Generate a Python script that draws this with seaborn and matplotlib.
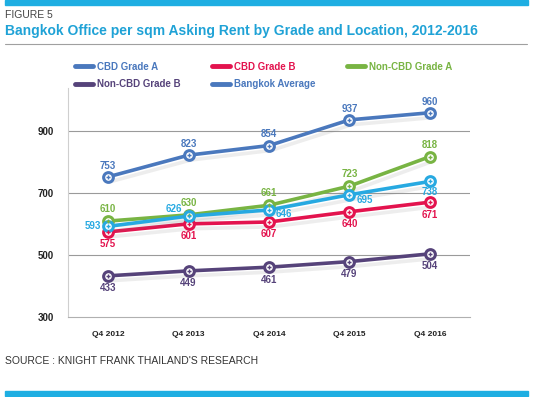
import matplotlib
matplotlib.use("Agg")
import matplotlib.pyplot as plt
import matplotlib.patheffects as pe
import seaborn as sns
import pandas as pd
from matplotlib.lines import Line2D

quarters = ["Q4 2012", "Q4 2013", "Q4 2014", "Q4 2015", "Q4 2016"]
cbd_a = [753, 823, 854, 937, 960]
cbd_b = [575, 601, 607, 640, 671]
noncbd_a = [610, 630, 661, 723, 818]
noncbd_b = [433, 449, 461, 479, 504]
bkk_avg = [593, 626, 646, 695, 738]
series_names = ["CBD Grade A", "CBD Grade B", "Non-CBD Grade A", "Non-CBD Grade B", "Bangkok Average"]
yticks = [300, 500, 700, 900]

colors = {
    "CBD Grade A": "#4a78bd",
    "CBD Grade B": "#e3134e",
    "Non-CBD Grade A": "#78b443",
    "Non-CBD Grade B": "#56437a",
    "Bangkok Average": "#27a9e1",
}

values = [cbd_a, cbd_b, noncbd_a, noncbd_b, bkk_avg]
rows = []
for name, vals in zip(series_names, values):
    for q, v in zip(quarters, vals):
        rows.append({"Quarter": q, "Rent": v, "Series": name})
df = pd.DataFrame(rows)

sns.set_theme(style="white")
plt.rcParams["font.family"] = ["Liberation Sans", "DejaVu Sans"]

fig = plt.figure(figsize=(5.34, 3.97), dpi=100)
ax = fig.add_axes([68 / 534, 1 - 317 / 397, (470 - 68) / 534, (317 - 88) / 397])

sns.lineplot(data=df, x="Quarter", y="Rent", hue="Series", hue_order=series_names,
             palette=colors, linewidth=2.6, sort=False, ax=ax, legend=False,
             path_effects=[pe.SimpleLineShadow(offset=(1.5, -3.5), shadow_color="#777777", alpha=0.13), pe.Normal()])

# markers: white-filled circles with coloured rim and a small inner cross
for name, vals in zip(series_names, values):
    ax.plot(range(len(quarters)), vals, linestyle="none", marker="o", markersize=7,
            markerfacecolor="white", markeredgecolor=colors[name], markeredgewidth=2.2, zorder=4)
    ax.plot(range(len(quarters)), vals, linestyle="none", marker="+", markersize=3,
            markeredgewidth=1, color=colors[name], zorder=5)

ax.set_xlim(-0.5, 4.5)
ax.set_ylim(300, 1040)
ax.set_yticks(yticks)
ax.set_yticklabels([str(t) for t in yticks], fontsize=7, fontweight="bold", color="#222222")
ax.set_xticks(range(len(quarters)))
ax.set_xticklabels(quarters, fontsize=6, fontweight="bold", color="#222222")
ax.tick_params(axis="y", length=0, pad=10)
ax.tick_params(axis="x", length=0, pad=10)
ax.set_xlabel("")
ax.set_ylabel("")
for t in yticks[1:]:
    ax.axhline(t, color="#9a9a9a", linewidth=0.8, zorder=0)
for s in ["top", "right"]:
    ax.spines[s].set_visible(False)
ax.spines["left"].set_color("#cfcfcf")
ax.spines["left"].set_linewidth(0.8)
ax.spines["bottom"].set_color("#b0b0b0")
ax.spines["bottom"].set_linewidth(0.8)

# data labels: (dx, dy) in points, ha
offsets = {
    "CBD Grade A": [(0, 8, "center")] * 5,
    "CBD Grade B": [(0, -9, "center")] * 5,
    "Non-CBD Grade A": [(0, 8.5, "center")] * 5,
    "Non-CBD Grade B": [(0, -9, "center")] * 5,
    "Bangkok Average": [(-5, 0, "right"), (-5, 5, "right"), (5, -3, "left"), (5, -4, "left"), (0, -7.5, "center")],
}
for name, vals in zip(series_names, values):
    for i, v in enumerate(vals):
        dx, dy, ha = offsets[name][i]
        ax.annotate(str(v), (i, v), xytext=(dx, dy), textcoords="offset points",
                    ha=ha, va="center", fontsize=7, fontweight="bold", color=colors[name], zorder=6)

# legend
legend_colors = dict(colors)
legend_colors["Bangkok Average"] = "#4a78bd"
order = ["CBD Grade A", "Non-CBD Grade B", "CBD Grade B", "Bangkok Average", "Non-CBD Grade A"]
handles = [Line2D([0], [0], color=legend_colors[n], linewidth=3.5) for n in order]
leg = fig.legend(handles, order, ncol=3, loc="upper left", bbox_to_anchor=(66 / 534, 1 - 53 / 397),
                 frameon=False, handlelength=1.9, handletextpad=0.4,
                 columnspacing=3.2, labelspacing=0.75, prop={"weight": "bold", "size": 7})
for txt, n in zip(leg.get_texts(), order):
    txt.set_color(legend_colors[n])

# header / footer decorations
fig.patches.append(plt.Rectangle((5 / 534, 1 - 5 / 397), 523 / 534, 5 / 397, transform=fig.transFigure,
                                 color="#1eaee2", zorder=10))
fig.patches.append(plt.Rectangle((5 / 534, 1 - 396 / 397), 523 / 534, 5 / 397, transform=fig.transFigure,
                                 color="#1eaee2", zorder=10))
fig.add_artist(Line2D([5 / 534, 527 / 534], [1 - 44 / 397, 1 - 44 / 397], color="#a0a0a0", linewidth=0.8,
                      transform=fig.transFigure))
fig.text(5 / 534, 1 - 15 / 397, "FIGURE 5", fontsize=7.5, color="#444444", va="center", ha="left")
fig.text(5 / 534, 1 - 31 / 397, "Bangkok Office per sqm Asking Rent by Grade and Location, 2012-2016",
         fontsize=10, fontweight="bold", color="#1fa2d6", va="center", ha="left")
fig.text(5 / 534, 1 - 361 / 397, "SOURCE : KNIGHT FRANK THAILAND'S RESEARCH", fontsize=7.5,
         color="#333333", va="center", ha="left")

fig.savefig("out.png", dpi=100)
